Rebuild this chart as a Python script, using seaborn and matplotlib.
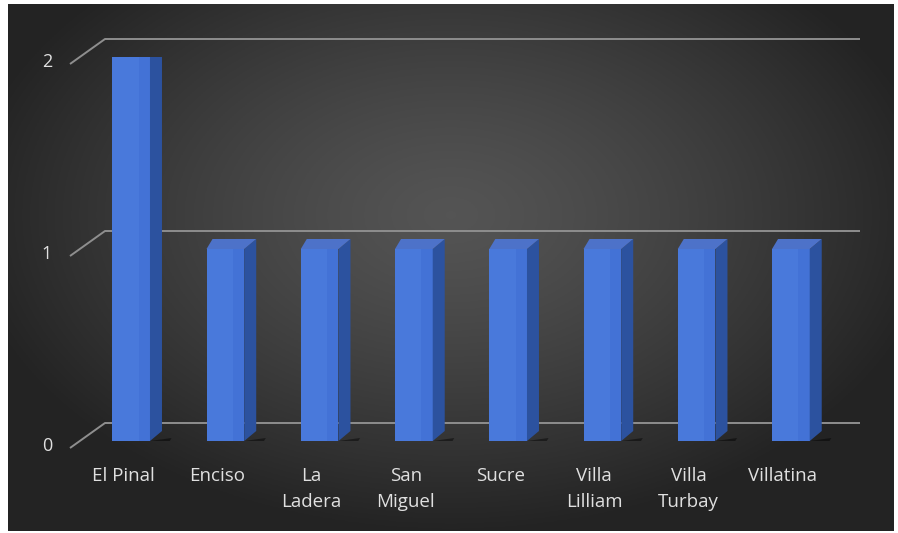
import numpy as np
import pandas as pd
import matplotlib
matplotlib.use("Agg")
import matplotlib.pyplot as plt
import matplotlib.transforms as mtransforms
from matplotlib.patches import Polygon
import seaborn as sns

# data
barrios = ["El Pinal", "Enciso", "La\nLadera", "San\nMiguel", "Sucre",
           "Villa\nLilliam", "Villa\nTurbay", "Villatina"]
conteo = [2, 1, 1, 1, 1, 1, 1, 1]
yticks = [0, 1, 2]

df = pd.DataFrame({"barrio": barrios, "conteo": conteo})

sns.set_theme(style="white")
plt.rcParams["font.family"] = ["Open Sans", "DejaVu Sans"]

W, H = 898, 533
fig = plt.figure(figsize=(W / 100, H / 100), dpi=100, facecolor="white")

# dark radial background panel
bg = fig.add_axes([8 / W, 2 / H, 886 / W, 527 / H])
gx, gy = np.meshgrid(np.linspace(-1, 1, 400), np.linspace(-1, 1, 240))
r = np.sqrt(((gx - 0.0) / 1.1) ** 2 + ((gy + 0.2) / 1.2) ** 2)
r = np.clip(r, 0, 1)
lev = 0.33 - 0.19 * r ** 1.3
bg.imshow(np.dstack([lev, lev, lev]), aspect="auto", extent=[0, 1, 0, 1])
bg.set_axis_off()

# main axes: front plane of the bars
ax = fig.add_axes([84 / W, (H - 441) / H, 754 / W, 384 / H])
ax.patch.set_alpha(0)
sns.barplot(data=df, x="barrio", y="conteo", color="#4372d6", width=0.4,
            saturation=1, ax=ax, zorder=3, edgecolor="none")
ax.set_xlim(-0.5, 7.5)
ax.set_ylim(0, 2)
for s in ax.spines.values():
    s.set_visible(False)
ax.set_xlabel("")
ax.set_ylabel("")
ax.set_yticks([])

# pixel -> data offsets
inv = ax.transData.inverted()
def px(dx, dy):
    a = inv.transform((0, 0))
    b = inv.transform((dx, dy))
    return b[0] - a[0], b[1] - a[1]

# perspective gridlines on back wall
gdx, gdy = px(0, 18)
lx0, _ = px(-14, 0)
lx1, _ = px(21, 0)
rx, _ = px(776, 0)
for v in yticks:
    yb = v + gdy
    ax.plot([-0.5 + lx0, -0.5 + lx1, -0.5 + rx], [v - px(0, 7)[1], yb, yb],
            color="#8e8e8e", lw=1.4, zorder=1, clip_on=False,
            solid_capstyle="butt")
    ax.text(-0.5 + px(-37, 0)[0], v - px(0, 5)[1], str(v), color="#e0e0e0",
            fontsize=13, ha="center", va="center", clip_on=False)

# 3D faces for each bar
ddx, ddy = px(12, 10)
for p in ax.patches:
    x0, w, h = p.get_x(), p.get_width(), p.get_height()
    x1 = x0 + w
    # shadow
    ax.add_patch(Polygon([(x0 - ddx * 0.3, 0), (x1, 0), (x1 + ddx * 1.8, ddy * 0.3),
                          (x1 + ddx * 1.4, -ddy * 0.5), (x0 + ddx * 0.3, -ddy * 0.6)],
                         closed=True, fc="black", alpha=0.45, lw=0, zorder=2))
    ax.add_patch(Polygon([(x1, 0), (x1, h), (x1 + ddx, h + ddy), (x1 + ddx, ddy)],
                         closed=True, fc="#2c529f", lw=0, zorder=3))
    ax.add_patch(Polygon([(x0, h), (x1, h), (x1 + ddx, h + ddy), (x0 + ddx * 0.5, h + ddy)],
                         closed=True, fc="#4d72c9", lw=0, zorder=3))
    # lighter strip on front face
    ax.add_patch(Polygon([(x0, 0), (x0 + w * 0.7, 0), (x0 + w * 0.7, h), (x0, h)],
                         closed=True, fc="#5a8be8", alpha=0.3, lw=0, zorder=3))

ax.tick_params(axis="x", length=0, pad=19, colors="#e0e0e0", labelsize=13.5)
shift = mtransforms.ScaledTranslation(-8 / 100, 0, fig.dpi_scale_trans)
for lab in ax.get_xticklabels():
    lab.set_linespacing(1.55)
    lab.set_transform(lab.get_transform() + shift)

fig.savefig("out.png", dpi=100, facecolor="white")
